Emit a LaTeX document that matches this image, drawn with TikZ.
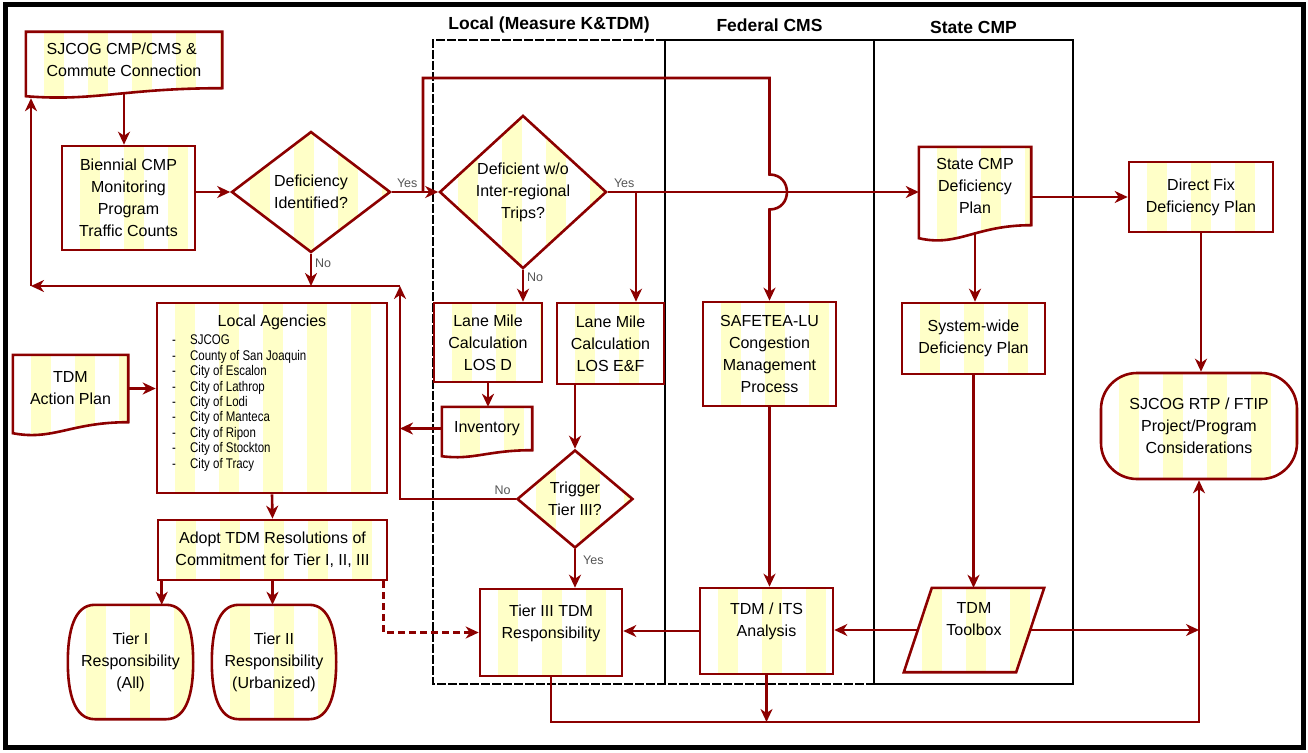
\documentclass[tikz,border=0pt]{standalone}
\usepackage{fontspec}
\setmainfont{Liberation Sans}
\newfontfamily\narrowfont[FakeStretch=0.82]{Liberation Sans}
\usepackage{tikz}
\usetikzlibrary{calc,shapes.geometric,arrows.meta,positioning,backgrounds}
\definecolor{flowred}{RGB}{140,0,0}
\definecolor{stripe}{RGB}{255,255,200}
\definecolor{notegray}{RGB}{85,85,85}
\tikzset{
	stripes/.style={
		fill=white,
		path picture={
			\foreach \k in {0,...,5}
				\fill[fill=stripe, sharp corners] ([xshift=\k*44pt+18pt]path picture bounding box.south west)
					rectangle ([xshift=\k*44pt+38pt]path picture bounding box.north west);
		}
	},
	boxline/.style={draw=flowred, line width=2.6pt},
	flowtext/.style={align=center, font=\fontsize{16}{22}\selectfont},
	flowbox/.style={boxline, stripes, rectangle, flowtext, inner sep=2pt},
	decision/.style={boxline, stripes, diamond, flowtext, inner sep=0pt},
	plainbox/.style={rectangle, flowtext, inner sep=2pt},
	termbox/.style={flowbox, rounded corners=36pt},
	lane/.style={draw=black, line width=1.6pt},
	lanedash/.style={lane, dash pattern=on 9pt off 2pt},
	lanehead/.style={font=\bfseries\fontsize{17.5}{20}\selectfont},
	flow/.style={draw=flowred, line width=2.6pt, -{Stealth[length=13pt,width=12pt,inset=4pt]}},
	thinflow/.style={flow, line width=1.8pt},
	note/.style={text=notegray, font=\fontsize{12.5}{14}\selectfont, inner sep=0pt}
}
% outline of a document symbol (wavy foot) round a plain node
\newcommand{\flowdoc}[2]{%
	\path[boxline,stripes] (#1.north west) -- (#1.north east) -- (#1.south east)
		.. controls ($(#1.south east)!0.5!(#1.south west)$) and ($(#1.south west)!0.35!(#1.south east)+(0,1.7*#2)$)
		.. ($(#1.south west)+(0,#2)$) -- cycle;}
% outline with bulging sides
\newcommand{\flowtier}[1]{%
	\path[boxline,stripes] ([xshift=27pt]#1.north west) -- ([xshift=-27pt]#1.north east)
		.. controls ([xshift=-6pt]#1.north east) and ([yshift=30pt]#1.east) .. (#1.east)
		.. controls ([yshift=-30pt]#1.east) and ([xshift=-6pt]#1.south east) .. ([xshift=-27pt]#1.south east)
		-- ([xshift=27pt]#1.south west)
		.. controls ([xshift=6pt]#1.south west) and ([yshift=-30pt]#1.west) .. (#1.west)
		.. controls ([yshift=30pt]#1.west) and ([xshift=6pt]#1.north west) .. ([xshift=27pt]#1.north west)
		-- cycle;}
% slanted data symbol
\newcommand{\flowslant}[2]{%
	\path[boxline,stripes] ([xshift=#2]#1.north west) -- ([xshift=#2]#1.north east)
		-- ([xshift=-#2]#1.south east) -- ([xshift=-#2]#1.south west) -- cycle;}
\newcommand{\agencyitem}[1]{\makebox[18pt][l]{-}#1}

\begin{document}
\begin{tikzpicture}[x=1pt,y=-1pt]
	\useasboundingbox (0,0) rectangle (1308,752);
	\draw[line width=5pt] (5,5) rectangle (1303,747);

	% lanes
	\draw[lanedash] (665,40) -- (433,40) -- (433,684) -- (874,684);
	\draw[lane] (665,684) -- (665,40) -- (1073,40) -- (1073,684) -- (874,684) -- (874,40);
	\node[lanehead] (hlocal) at (549,25) {Local (Measure K\&TDM)};
	\node[lanehead] (hfederal) at (769.5,25) {Federal CMS};
	\node[lanehead] (hstate) at (973.5,27) {State CMP};

	% nodes
	\node[plainbox, align=left, minimum width=196pt, minimum height=56pt] (sjcog) at (124,60) {SJCOG CMP/CMS \&\\Commute Connection};
	\node[flowbox, minimum width=133pt, minimum height=104pt] (bien) at (128.5,198) {Biennial CMP\\Monitoring\\Program\\Traffic Counts};
	\node[decision, minimum width=159pt, minimum height=121pt] (defid) at (311,192) {Deficiency\\Identified?};
	\node[decision, minimum width=167pt, minimum height=152pt] (defwo) at (523,192) {Deficient w/o\\Inter-regional\\Trips?};
	\node[flowbox, minimum width=108pt, minimum height=79pt] (lmd) at (488,342.5) {Lane Mile\\Calculation\\LOS D};
	\node[flowbox, minimum width=107pt, minimum height=81pt] (lmef) at (610.5,343.5) {Lane Mile\\Calculation\\LOS E\&F};
	\node[plainbox, minimum width=90pt, minimum height=43pt] (inv) at (487,428.5) {Inventory};
	\node[decision, minimum width=116pt, minimum height=98pt] (trig) at (575,499) {Trigger\\Tier III?};
	\node[flowbox, minimum width=133pt, minimum height=104pt] (safe) at (769.5,354) {SAFETEA-LU\\Congestion\\Management\\Process};
	\node[plainbox, minimum width=112pt, minimum height=78pt] (scmp) at (975,186) {State CMP\\Deficiency\\Plan};
	\node[flowbox, minimum width=144pt, minimum height=70pt] (dfix) at (1201,197) {Direct Fix\\Deficiency Plan};
	\node[flowbox, minimum width=143pt, minimum height=71pt] (sysw) at (973.5,338.5) {System-wide\\Deficiency Plan};
	\node[termbox, minimum width=196pt, minimum height=106pt] (rtp) at (1199,426) {SJCOG RTP / FTIP\\Project/Program\\Considerations};
	\node[plainbox, minimum width=115pt, minimum height=67pt] (tdmap) at (70.5,388.5) {TDM\\Action Plan};
	\node[flowbox, minimum width=230pt, minimum height=190pt] (locag) at (272,398) {};
	\node[flowtext] (locagtitle) at (272,322) {Local Agencies};
	\node[anchor=north west, align=left, inner sep=0pt, font=\narrowfont\fontsize{14}{15.4}\selectfont] (locaglist) at (172,335)
		{\agencyitem{SJCOG}\\\agencyitem{County of San Joaquin}\\\agencyitem{City of Escalon}\\\agencyitem{City of Lathrop}\\
		 \agencyitem{City of Lodi}\\\agencyitem{City of Manteca}\\\agencyitem{City of Ripon}\\\agencyitem{City of Stockton}\\\agencyitem{City of Tracy}};
	\node[flowbox, minimum width=229pt, minimum height=60pt] (adopt) at (272.5,550) {Adopt TDM Resolutions of\\Commitment for Tier I, II, III};
	\node[plainbox, minimum width=125pt, minimum height=114pt] (tone) at (130.5,662) {Tier I\\Responsibility\\(All)};
	\node[plainbox, minimum width=124pt, minimum height=114pt] (ttwo) at (274,662) {Tier II\\Responsibility\\(Urbanized)};
	\node[flowbox, minimum width=142pt, minimum height=87pt] (tthree) at (551,632.5) {Tier III TDM\\Responsibility\\~};
	\node[flowbox, minimum width=133pt, minimum height=86pt] (its) at (766.5,631) {TDM / ITS\\Analysis\\~};
	\node[plainbox, minimum width=112pt, minimum height=84pt] (tbox) at (974,630) {TDM\\Toolbox\\~};

	\begin{scope}[on background layer]
		\flowdoc{sjcog}{8}
		\flowdoc{inv}{6}
		\flowdoc{scmp}{13}
		\flowdoc{tdmap}{11}
		\flowtier{tone}
		\flowtier{ttwo}
		\flowslant{tbox}{14pt}
	\end{scope}

	% labels
	\node[note, above right=4pt and 5pt of defid.east] (yesid) {Yes};
	\node[note, below right=5pt and 4pt of defid.south] (noid) {No};
	\node[note, above right=4pt and 6pt of defwo.east] (yeswo) {Yes};
	\node[note, below right=3pt and 4pt of defwo.south] (nowo) {No};
	\node[note, above left=4pt and 5pt of trig.west] (notrig) {No};
	\node[note, below right=6pt and 8pt of trig.south] (yestrig) {Yes};

	% connectors
	\coordinate (yesa) at (423,192);
	\coordinate (topa) at (423,78);
	\coordinate (yesb) at (636,192);
	\coordinate (nor) at (400,286);
	\coordinate (nol) at (31,286);
	\coordinate (rtpfoot) at (1199,722);
	\coordinate (sjcogfoot) at ([yshift=-10pt]sjcog.south west);
	\coordinate (hoptop) at ($(safe.north |- defwo.east)+(0,-17.5)$);
	\coordinate (hopbot) at ($(safe.north |- defwo.east)+(0,17.5)$);
	\coordinate (adoptl) at ([xshift=5pt]adopt.south west);
	\coordinate (adoptr) at ([xshift=-5pt]adopt.south east);

	\draw[flow] ([yshift=-6pt]sjcog.south) -- (sjcog.south |- bien.north);
	\draw[flow] (bien.east |- defid.west) -- (defid.west);
	\draw[flow] (defid.east) -- (yesa) -- (defwo.west);
	\draw[flow] (yesa) -- (topa) -| (hoptop) .. controls +(23.3,0) and +(23.3,0) .. (hopbot) -- (safe.north);
	\draw[flow] (defwo.east) -- (defwo.east -| scmp.west);
	\draw[flow] (yesb) -- (yesb |- lmef.north);
	\draw[flow] (defwo.south) -- (defwo.south |- lmd.north);
	\draw[flow] (lmd.south) -- (lmd.south |- inv.north);
	\draw[flow] (inv.west) -- (inv.west -| nor);
	\draw[flow] (trig.north |- lmef.south) -- (trig.north);
	\draw[flow] (trig.west) -| (nor);
	\draw[flow] (defid.south) -- (defid.south |- nor);
	\draw[flow] (nor) -- (nol);
	\draw[flow] (nol) -- (nol |- sjcogfoot);
	\draw[flow] (tdmap.east) -- (tdmap.east -| locag.west);
	\draw[flow] (locag.south) -- (adopt.north);
	\draw[flow] (adoptl) -- (adoptl |- tone.north);
	\draw[flow] (adopt.south) -- (adopt.south |- ttwo.north);
	\draw[flow, dash pattern=on 7pt off 4pt] (adoptr) |- (tthree.west);
	\draw[flow] (trig.south) -- (trig.south |- tthree.north);
	\draw[flow] (safe.south) -- (safe.south |- its.north);
	\draw[thinflow] (its.west) -- (its.west -| tthree.east);
	\draw[flow] (tbox.west) -- (tbox.west -| its.east);
	\draw[thinflow] (tbox.east) -- (tbox.east -| rtpfoot);
	\draw[thinflow] (tthree.south) |- (rtpfoot) -- (rtp.south);
	\draw[flow] (its.south) -- (its.south |- rtpfoot);
	\draw[thinflow] (scmp.east |- dfix.west) -- (dfix.west);
	\draw[flow] ([yshift=-7pt]scmp.south) -- (scmp.south |- sysw.north);
	\draw[flow] (sysw.south) -- (sysw.south |- tbox.north);
	\draw[flow] (dfix.south) -- (dfix.south |- rtp.north);
\end{tikzpicture}
\end{document}
